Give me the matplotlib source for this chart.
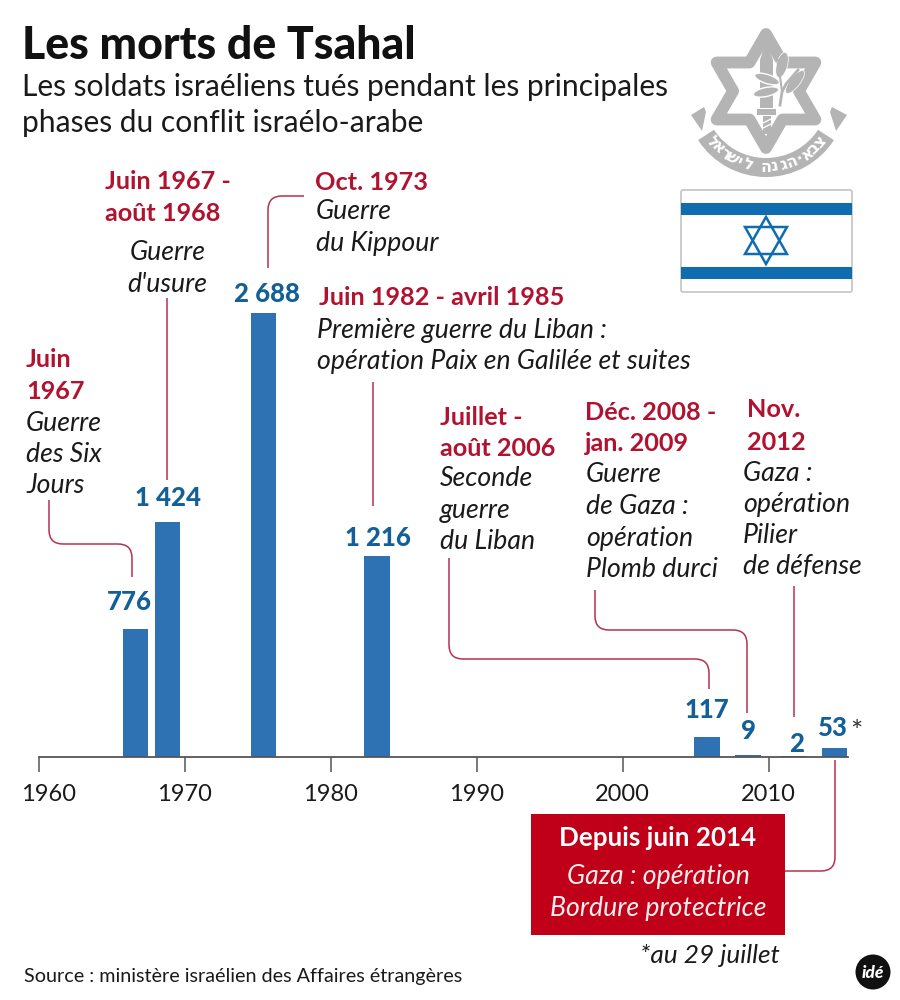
import numpy as np
import matplotlib
matplotlib.use('Agg')
import matplotlib.pyplot as plt
from matplotlib.path import Path
from matplotlib.patches import PathPatch, Rectangle, Polygon, Wedge, Circle, Ellipse, FancyBboxPatch
from matplotlib.transforms import ScaledTranslation

plt.rcParams['font.family'] = ['Lato', 'DejaVu Sans']

# chart data
years = [1966.63, 1968.82, 1975.4, 1983.16, 2005.77, 2008.6, 2011.7, 2014.5]
deaths = [776, 1424, 2688, 1216, 117, 9, 2, 53]
value_labels = ['776', '1 424', '2 688', '1 216', '117', '9', '2', '53']
tick_years = [1960, 1970, 1980, 1990, 2000, 2010]

BLUE = '#2e72b4'
VALUE = '#125f99'
RED = '#b0122f'
LINE = '#b5314f'
BOX = '#c00018'
GREY = '#b4b4b4'
FLAG = '#0f6cae'
TXT = '#1a1a1a'

W, H = 900, 1000
BASE = 756.7
X0, PX_YEAR = 38.7, 14.6
PX_UNIT = 0.165

fig = plt.figure(figsize=(9, 10), dpi=100)

# bars, in real axes placed on the pixel grid
x_right = 848
top_px = 250
ax = fig.add_axes([X0 / W, 1 - BASE / H, (x_right - X0) / W, (BASE - top_px) / H])
ax.bar(years, deaths, width=1.75, color=BLUE, linewidth=0)
ax.set_xlim(1960, 1960 + (x_right - X0) / PX_YEAR)
ax.set_ylim(0, (BASE - top_px) / PX_UNIT)
ax.patch.set_alpha(0)
for s in ['top', 'left', 'right']:
    ax.spines[s].set_visible(False)
ax.spines['bottom'].set_color('#555555')
ax.spines['bottom'].set_linewidth(1.3)
ax.set_yticks([])
ax.set_xticks(tick_years)
ax.set_xticklabels([str(y) for y in tick_years], fontsize=17, color=TXT)
ax.tick_params(axis='x', length=11, width=1.1, color='#555555', pad=9)
lab0 = ax.get_xticklabels()[0]
lab0.set_transform(lab0.get_transform() + ScaledTranslation(10 / 100, 0, fig.dpi_scale_trans))

# overlay in pixel coordinates for the annotations
ov = fig.add_axes([0, 0, 1, 1])
ov.set_xlim(0, W)
ov.set_ylim(H, 0)
ov.axis('off')
ov.patch.set_alpha(0)


def put(x, y, s, size=17, color=TXT, weight='normal', style='normal', ha='left'):
    ov.text(x, y, s, fontsize=size, color=color, fontweight=weight, fontstyle=style,
            ha=ha, va='baseline')


def red(x, y, s):
    put(x, y, s, size=18.2, color=RED, weight='bold')


def ital(x, y, s):
    put(x, y, s, size=19.2, style='italic')


def connector(points):
    # polyline, with rounded corners at the inner points
    verts = [points[0]]
    codes = [Path.MOVETO]
    r = 14
    for i in range(1, len(points) - 1):
        p = np.array(points[i], float)
        a = np.array(points[i - 1], float)
        b = np.array(points[i + 1], float)
        p1 = p + (a - p) / np.linalg.norm(a - p) * r
        p2 = p + (b - p) / np.linalg.norm(b - p) * r
        verts += [tuple(p1), tuple(p), tuple(p2)]
        codes += [Path.LINETO, Path.CURVE3, Path.CURVE3]
    verts.append(points[-1])
    codes.append(Path.LINETO)
    ov.add_patch(PathPatch(Path(verts, codes), fc='none', ec=LINE, lw=1.1))


# title block
put(22, 59, 'Les morts de Tsahal', size=32.1, color='#111111', weight='black')
put(22, 96, 'Les soldats israéliens tués pendant les principales', size=21.6)
put(22, 132, 'phases du conflit israélo-arabe', size=21.6)

# annotations
red(105, 189, 'Juin 1967 -')
red(105, 221, 'août 1968')
ital(130, 260, 'Guerre')
ital(127, 292, "d'usure")
red(315, 190, 'Oct. 1973')
ital(316, 219, 'Guerre')
ital(316, 251, 'du Kippour')
red(319, 305, 'Juin 1982 - avril 1985')
ital(317, 338, 'Première guerre du Liban :')
ital(317, 369, 'opération Paix en Galilée et suites')
red(26, 367, 'Juin')
red(26, 399, '1967')
ital(26, 431, 'Guerre')
ital(26, 462, 'des Six')
ital(26, 493, 'Jours')
red(440, 425, 'Juillet -')
red(440, 456, 'août 2006')
ital(440, 486, 'Seconde')
ital(440, 518, 'guerre')
ital(440, 549, 'du Liban')
red(585, 420, 'Déc. 2008 -')
red(585, 451, 'jan. 2009')
ital(586, 482, 'Guerre')
ital(586, 514, 'de Gaza :')
ital(586, 546, 'opération')
ital(586, 577, 'Plomb durci')
red(747, 417, 'Nov.')
red(747, 450, '2012')
ital(743, 481, 'Gaza :')
ital(743, 512, 'opération')
ital(743, 543, 'Pilier')
ital(743, 574, 'de défense')

# values above the bars
value_xy = [(129, 610), (168, 506), (267, 302), (378, 546), (707, 718), (749, 739), (797, 752), (833, 736)]
for (vx, vy), lab in zip(value_xy, value_labels):
    put(vx, vy, lab, size=18.5, color=VALUE, weight='black', ha='center')
put(850, 741, '*', size=21, color='#333333')

# leader lines
connector([(49, 500), (49, 544), (132, 544), (132, 577)])
connector([(167, 298), (167, 480)])
connector([(304, 196), (268, 196), (268, 268)])
connector([(373, 382), (373, 506)])
connector([(449, 558), (449, 659), (709, 659), (709, 689)])
connector([(595, 590), (595, 630), (747, 630), (747, 713)])
connector([(794, 586), (794, 717)])
connector([(785, 871), (835, 871), (835, 760)])

# red box
ov.add_patch(Rectangle((531, 814), 254, 121, fc=BOX, ec='none'))
put(658, 846, 'Depuis juin 2014', size=18.7, color='white', weight='bold', ha='center')
put(658, 884, 'Gaza : opération', size=19.2, color='#fdeeee', style='italic', ha='center')
put(658, 916, 'Bordure protectrice', size=19.2, color='#fdeeee', style='italic', ha='center')
put(640, 963, '*au 29 juillet', size=18.9, style='italic')

put(24, 982, 'Source : ministère israélien des Affaires étrangères', size=14.2)

# ide badge
ov.add_patch(Circle((873, 972), 17.5, fc='#111111', ec='none'))
put(873, 978, 'idé', size=12.5, color='white', weight='black', style='italic', ha='center')

# flag
ov.add_patch(FancyBboxPatch((681, 190), 171, 102, boxstyle='round,pad=0,rounding_size=2',
                            fc='white', ec='#c4c4c4', lw=1.2))
ov.add_patch(Rectangle((681, 203), 171, 12, fc=FLAG, ec='none'))
ov.add_patch(Rectangle((681, 267), 171, 11.5, fc=FLAG, ec='none'))
ov.add_patch(Polygon([(766, 217), (787, 254), (745, 254)], closed=True, fc='none', ec=FLAG, lw=1.8))
ov.add_patch(Polygon([(766, 264), (787, 227), (745, 227)], closed=True, fc='none', ec=FLAG, lw=1.8))

# emblem
cx, cy, R = 766, 91, 57
ang = np.deg2rad(np.arange(0, 360, 30) - 90)
rad = np.where(np.arange(12) % 2 == 0, R, R / np.sqrt(3))
star = np.c_[cx + rad * np.cos(ang), cy + rad * np.sin(ang)]
ov.add_patch(Polygon(star, closed=True, fc='white', ec=GREY, lw=8.5, joinstyle='round'))
# sword
ov.add_patch(Polygon([(766, 40), (773, 60), (773, 108), (760, 108), (760, 60)], closed=True, fc=GREY, ec='none'))
ov.add_patch(Rectangle((757, 109), 19, 6, fc=GREY, ec='none'))
ov.add_patch(Rectangle((763, 116), 8, 18, fc=GREY, ec='none'))
for sy in [121, 126]:
    ov.plot([763, 771], [sy + 2, sy - 2], color='white', lw=0.9)
# olive branch
ov.plot([780, 782, 786, 798], [105, 92, 84, 70], color=GREY, lw=2)
ov.plot([782, 778], [92, 60], color=GREY, lw=1.5)
ov.add_patch(Ellipse((782, 65), 11, 26, angle=15, fc=GREY, ec='white', lw=0.5))
ov.add_patch(Ellipse((795, 82), 10, 28, angle=38, fc=GREY, ec='white', lw=0.5))
ov.add_patch(Ellipse((767, 79), 26, 9, angle=18, fc=GREY, ec='white', lw=1))
ov.add_patch(Ellipse((766, 92), 26, 9, angle=-12, fc=GREY, ec='white', lw=1))
# banner
bx, by = 766, 96
ov.add_patch(Wedge((bx, by), 81, 90 - 57, 90 + 57, width=19, fc=GREY, ec='none'))
ov.add_patch(Polygon([(691, 115), (704, 107), (706, 112), (702, 131)], closed=True, fc=GREY, ec='none'))
ov.add_patch(Polygon([(847, 115), (832, 107), (830, 112), (836, 131)], closed=True, fc=GREY, ec='none'))
motto = 'צבא·הגנה לישראל'
n = len(motto)
for i, ch in enumerate(motto):
    # letters run right to left along the ribbon
    th = np.deg2rad(50 - i * 100 / (n - 1))
    tx = bx + 71 * np.sin(th)
    ty = by + 71 * np.cos(th)
    ov.text(tx, ty, ch, fontsize=11.5, color='white', fontweight='bold', family='DejaVu Sans',
            ha='center', va='center', rotation=np.rad2deg(th))

fig.savefig('out.png', dpi=100)
